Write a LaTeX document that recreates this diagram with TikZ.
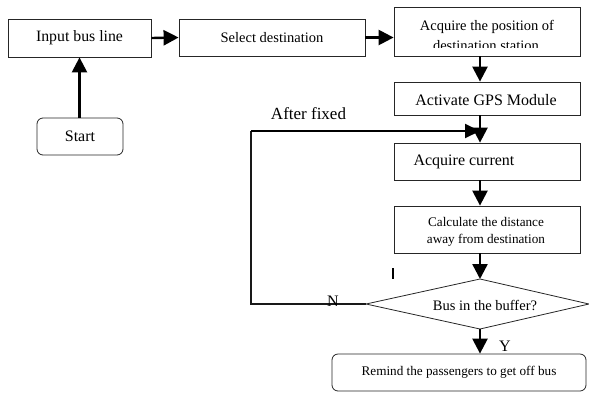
\documentclass[tikz,border=0pt]{standalone}
\usepackage{fontspec}
\setmainfont{Liberation Serif}
\usetikzlibrary{arrows.meta}
\begin{document}
\begin{tikzpicture}[x=1pt,y=-1pt,
  box/.style={draw=black!85, line width=0.8pt, inner sep=0pt},
  rbox/.style={box, rounded corners=6pt},
  txt/.style={inner sep=0pt},
  arr/.style={line width=2.4pt, -{Triangle[length=15pt,width=15pt]}},
  loopline/.style={line width=1.3pt, black!90},
  fa/.style={font=\fontsize{15.8}{18}\selectfont},
  fb/.style={font=\fontsize{14.5}{17}\selectfont},
  fc/.style={font=\fontsize{13.2}{16}\selectfont},
  fd/.style={font=\fontsize{16}{18}\selectfont}]
\useasboundingbox (0,0) rectangle (589,392);

% boxes
\node[box, minimum width=143pt, minimum height=38pt, fa] (inp) at (79.5,38) {Input bus line};
\node[box, minimum width=186pt, minimum height=37pt, fb] (sel) at (272,37.5) {Select destination};
\node[box, minimum width=186pt, minimum height=49pt] (acq) at (487,31.5) {};
\node[box, minimum width=186pt, minimum height=33pt] (gps) at (487,98.5) {};
\node[box, minimum width=186pt, minimum height=37pt] (cur) at (487,161.5) {};
\node[box, minimum width=186pt, minimum height=47pt] (calc) at (487,229.5) {};
\node[rbox, minimum width=86pt, minimum height=37pt, fd] (start) at (80,136.5) {Start};
\node[rbox, minimum width=254pt, minimum height=37pt, fc] (rem) at (459,372.5) {Remind the passengers to get off bus};

% texts inside boxes
\node[txt, fb] (acqt1) at (487,27) {Acquire the position of};
\begin{scope}
  \clip (395,36) rectangle (579,47.2);
  \node[txt, fb, anchor=base] (acqt2) at (486,50) {destination station};
\end{scope}
\node[txt, fd] (gpst) at (486,100) {Activate GPS Module};
\node[txt, fd] (curt) at (464,162) {Acquire current};
\node[txt, fc] (calct1) at (486,222) {Calculate the distance};
\node[txt, fc] (calct2) at (486,240) {away from destination};

% decision diamond
\coordinate (dt) at (480,279);
\coordinate (dl) at (366,304);
\coordinate (dr) at (589,304);
\coordinate (db) at (480,329);
\draw[black!85, line width=0.8pt] (dt) -- (dr) -- (db) -- (dl) -- cycle;
\node[txt, fb] (dect) at (485,305) {Bus in the buffer?};

% main flow
\coordinate (ax) at (480,0);
\draw[arr] (start.north -| inp) -- (inp.south);
\draw[arr] (inp.east) -- (sel.west);
\draw[arr] (sel.east) -- (sel.east -| acq.west);
\draw[arr] (acq.south -| ax) -- (gps.north -| ax);
\draw[arr] (gps.south -| ax) -- (cur.north -| ax);
\draw[arr] (cur.south -| ax) -- (calc.north -| ax);
\draw[arr] (calc.south -| ax) -- (dt);
\draw[arr] (db) -- (rem.north -| db);

% feedback loop
\coordinate (fb1) at (251,304);
\coordinate (fb2) at (251,131);
\coordinate (fb3) at (480,131);
\draw[loopline] (dl) -- (fb1) -- (fb2);
\draw[line width=2pt, -{Triangle[length=15pt,width=14pt]}] (fb2) -- (fb3);

% labels
\node[txt, font=\fontsize{17}{19}\selectfont] (after) at (308.5,114) {After fixed};
\node[txt, fd] (nlab) at (333,301) {N};
\node[txt, fd] (ylab) at (505,346) {Y};

% stray mark
\coordinate (m1) at (393,268);
\coordinate (m2) at (393,279);
\draw[line width=2.2pt] (m1) -- (m2);
\end{tikzpicture}
\end{document}
